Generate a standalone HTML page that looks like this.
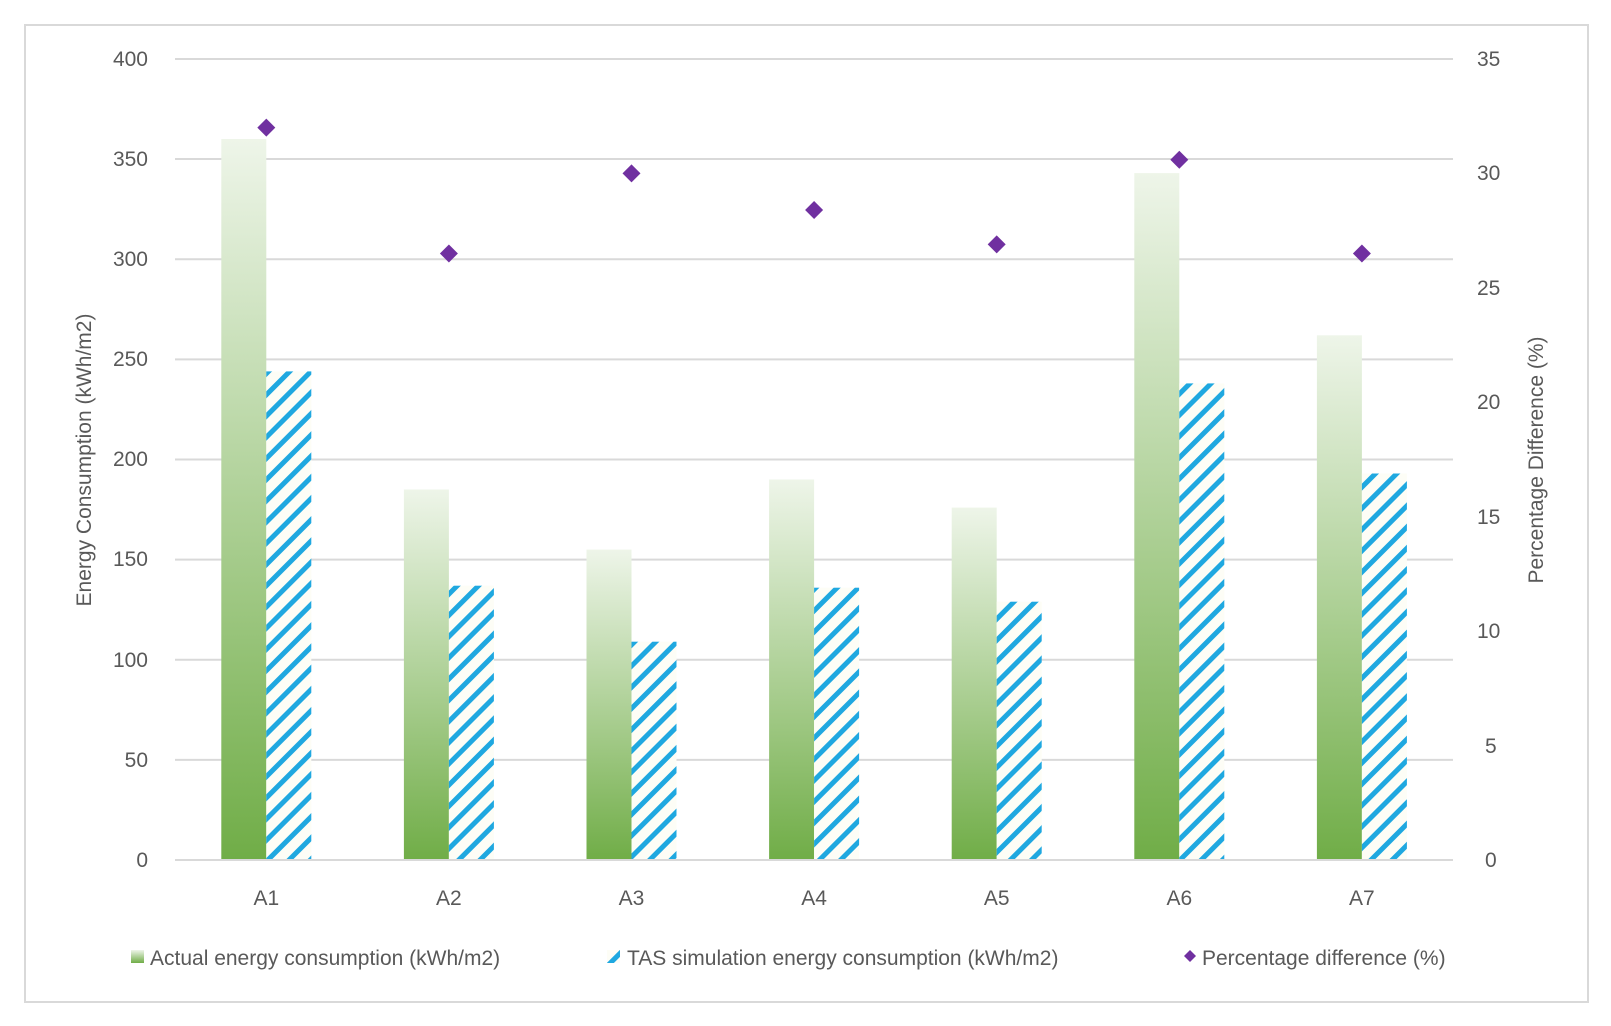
<!DOCTYPE html>
<html><head><meta charset="utf-8"><style>
html,body{margin:0;padding:0;background:#fff;}
svg{display:block;font-family:"Liberation Sans",sans-serif;}
</style></head><body>
<svg width="1611" height="1026" viewBox="0 0 1611 1026" xmlns="http://www.w3.org/2000/svg">
<defs>
<linearGradient id="g" x1="0" y1="0" x2="0" y2="1">
<stop offset="0" stop-color="#eef5e9"/><stop offset="1" stop-color="#70ad47"/>
</linearGradient>
<pattern id="h" patternUnits="userSpaceOnUse" width="15" height="15" patternTransform="rotate(-45)">
<rect width="15" height="15" fill="#fdfdf6"/><rect width="15" height="5" fill="#1fa8e0"/>
</pattern>
</defs>
<rect x="25" y="25" width="1563" height="977" fill="#fff" stroke="#d9d9d9" stroke-width="2"/>
<g stroke="#d9d9d9" stroke-width="2">
<line x1="175" x2="1453" y1="59" y2="59"/><line x1="175" x2="1453" y1="159" y2="159"/>
<line x1="175" x2="1453" y1="259.3" y2="259.3"/><line x1="175" x2="1453" y1="359.4" y2="359.4"/>
<line x1="175" x2="1453" y1="459.5" y2="459.5"/><line x1="175" x2="1453" y1="559.6" y2="559.6"/>
<line x1="175" x2="1453" y1="659.8" y2="659.8"/><line x1="175" x2="1453" y1="759.9" y2="759.9"/>
</g>
<g fill="#595959" font-size="21" text-anchor="end">
<text x="148" y="66">400</text><text x="148" y="166">350</text><text x="148" y="266">300</text>
<text x="148" y="366">250</text><text x="148" y="466">200</text><text x="148" y="566">150</text>
<text x="148" y="667">100</text><text x="148" y="767">50</text><text x="148" y="867">0</text>
</g>
<g fill="#595959" font-size="21" text-anchor="start">
<text x="1477" y="66">35</text><text x="1477" y="180">30</text><text x="1477" y="295">25</text>
<text x="1477" y="409">20</text><text x="1477" y="524">15</text><text x="1477" y="638">10</text>
<text x="1485" y="753">5</text><text x="1485" y="867">0</text>
</g>
<text transform="translate(91,460) rotate(-90)" fill="#595959" font-size="21" text-anchor="middle">Energy Consumption (kWh/m2)</text>
<text transform="translate(1543,460) rotate(-90)" fill="#595959" font-size="21" text-anchor="middle">Percentage Difference (%)</text>
<g>
<rect x="221.3" y="139" width="45" height="721" fill="url(#g)"/>
<rect x="403.9" y="489.5" width="45" height="370.5" fill="url(#g)"/>
<rect x="586.5" y="549.6" width="45" height="310.4" fill="url(#g)"/>
<rect x="769.1" y="479.5" width="45" height="380.5" fill="url(#g)"/>
<rect x="951.7" y="507.6" width="45" height="352.4" fill="url(#g)"/>
<rect x="1134.3" y="173.1" width="45" height="686.9" fill="url(#g)"/>
<rect x="1316.9" y="335.3" width="45" height="524.7" fill="url(#g)"/>
</g>
<g fill="url(#h)">
<rect x="266.3" y="371.4" width="45" height="488.6"/>
<rect x="448.9" y="585.7" width="45" height="274.3"/>
<rect x="631.5" y="641.7" width="45" height="218.3"/>
<rect x="814.1" y="587.7" width="45" height="272.3"/>
<rect x="996.7" y="601.7" width="45" height="258.3"/>
<rect x="1179.3" y="383.4" width="45" height="476.6"/>
<rect x="1361.9" y="473.5" width="45" height="386.5"/>
</g>
<line x1="175" x2="1453" y1="860" y2="860" stroke="#d9d9d9" stroke-width="2"/>
<g fill="#7030a0">
<path d="M266.3 118.6l9 9-9 9-9-9z"/>
<path d="M448.9 244.5l9 9-9 9-9-9z"/>
<path d="M631.5 164.4l9 9-9 9-9-9z"/>
<path d="M814.1 201l9 9-9 9-9-9z"/>
<path d="M996.7 235.4l9 9-9 9-9-9z"/>
<path d="M1179.3 150.7l9 9-9 9-9-9z"/>
<path d="M1361.9 244.5l9 9-9 9-9-9z"/>
</g>
<g fill="#595959" font-size="21" text-anchor="middle">
<text x="266.3" y="905">A1</text><text x="448.9" y="905">A2</text><text x="631.5" y="905">A3</text>
<text x="814.1" y="905">A4</text><text x="996.7" y="905">A5</text><text x="1179.3" y="905">A6</text><text x="1361.9" y="905">A7</text>
</g>
<g fill="#595959" font-size="21">
<rect x="131" y="950" width="13" height="13" fill="url(#g)"/>
<text x="150" y="965">Actual energy consumption (kWh/m2)</text>
<rect x="607" y="950" width="13" height="13" fill="url(#h)"/>
<text x="627" y="965">TAS simulation energy consumption (kWh/m2)</text>
<path d="M1190 950l6 6-6 6-6-6z" fill="#7030a0"/>
<text x="1202" y="965">Percentage difference (%)</text>
</g>
</svg>
</body></html>
